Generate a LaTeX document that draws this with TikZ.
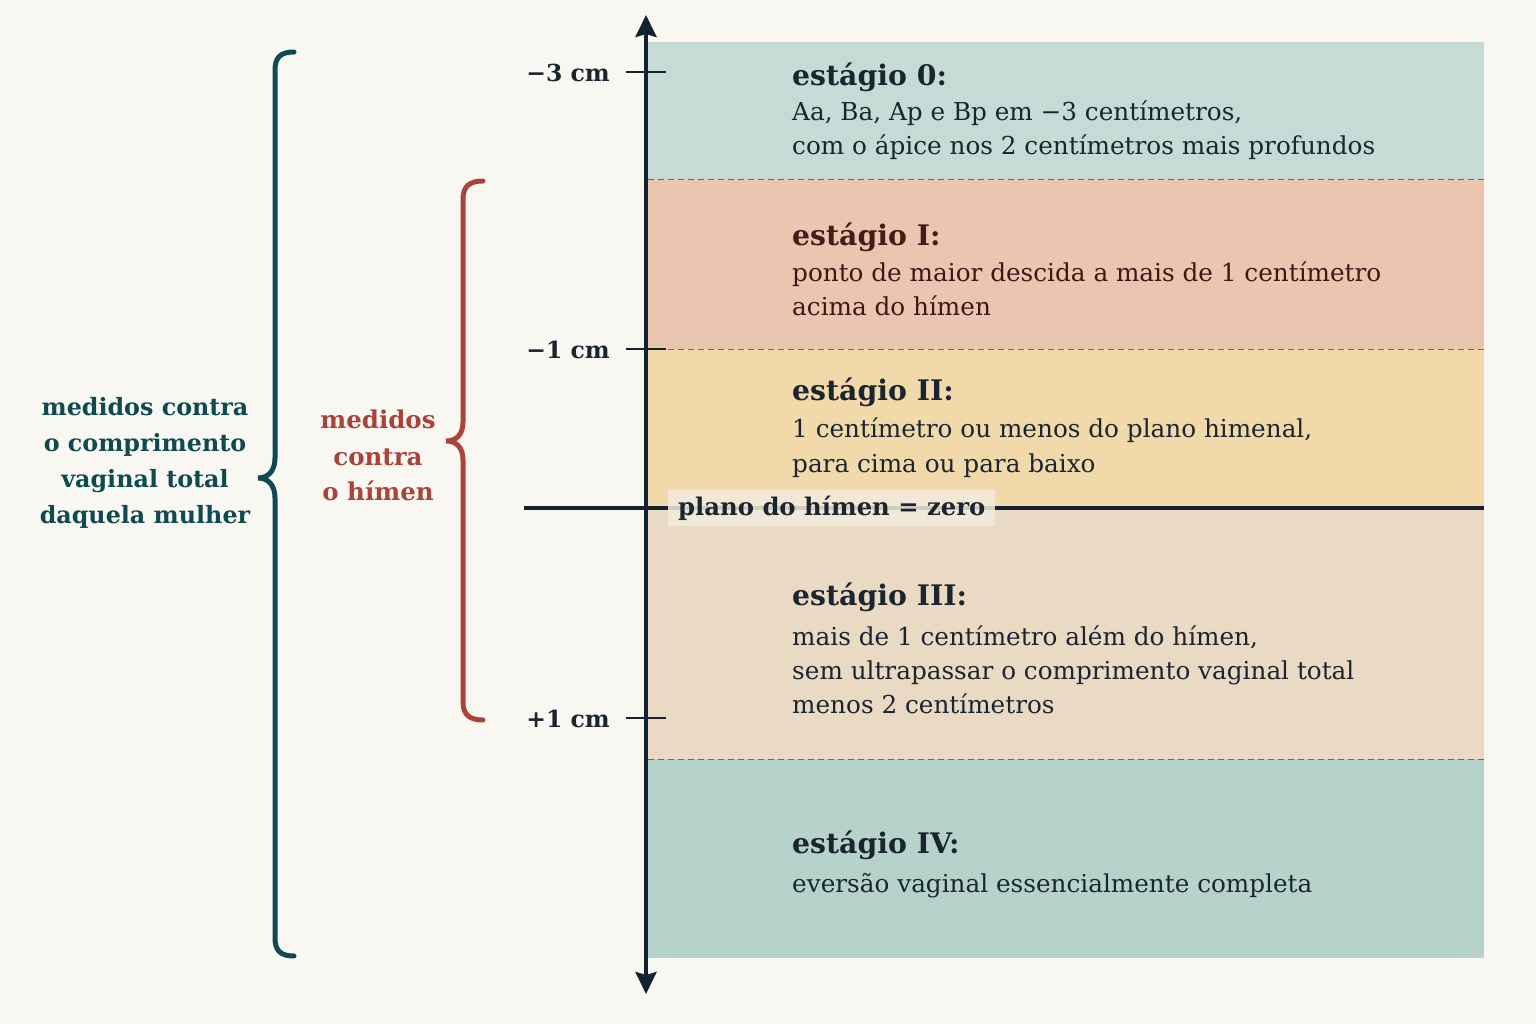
\documentclass[tikz,border=0pt]{standalone}
\usepackage{fontspec}
\setmainfont{DejaVu Serif}
\usetikzlibrary{arrows.meta}
\definecolor{bg}{HTML}{F9F7F1}
\definecolor{bandA}{HTML}{C4DCD5}
\definecolor{bandB}{HTML}{EAC6B1}
\definecolor{bandC}{HTML}{F1D9A9}
\definecolor{bandD}{HTML}{EAD9C3}
\definecolor{bandE}{HTML}{B6D3CB}
\definecolor{axiscol}{HTML}{142230}
\definecolor{teal}{HTML}{0E4A50}
\definecolor{rust}{HTML}{A8443A}
\definecolor{ink}{HTML}{1B2530}
\definecolor{maroon}{HTML}{4A1A1A}
\definecolor{dashcol}{HTML}{6E6A64}
\definecolor{planofill}{HTML}{F2EBDD}
\begin{document}
\begin{tikzpicture}[x=1pt,y=-1pt,
  stagetitle/.style={anchor=base west, inner sep=0pt, font=\bfseries\fontsize{28.3}{32}\selectfont, text=ink},
  stagebody/.style={anchor=base west, inner sep=0pt, font=\fontsize{24.7}{35}\selectfont, text=ink},
  ticklabel/.style={anchor=base east, inner sep=0pt, font=\bfseries\fontsize{23.5}{30}\selectfont, text=ink},
  sidelabel/.style={anchor=base, inner sep=0pt, font=\bfseries\fontsize{23.8}{30}\selectfont},
  tickline/.style={line width=2.5pt, draw=axiscol},
  dashline/.style={line width=1pt, draw=dashcol, dash pattern=on 6pt off 4pt},
  bracestyle/.style={line width=5pt, line cap=round}
]
\useasboundingbox (0,0) rectangle (1536,1024);
\fill[bg] (0,0) rectangle (1536,1024);

% bands
\fill[bandA] (648,42) rectangle (1484,180);
\fill[bandB] (648,180) rectangle (1484,349);
\fill[bandC] (648,349) rectangle (1484,508);
\fill[bandD] (648,508) rectangle (1484,759);
\fill[bandE] (648,759) rectangle (1484,958);

% dashed separators
\coordinate (d1a) at (648,180); \coordinate (d1b) at (1484,180);
\coordinate (d2a) at (648,349); \coordinate (d2b) at (1484,349);
\coordinate (d3a) at (648,759); \coordinate (d3b) at (1484,759);
\draw[dashline] (d1a) -- (d1b);
\draw[dashline] (d2a) -- (d2b);
\draw[dashline] (d3a) -- (d3b);

% hymen plane
\coordinate (pl) at (524,508); \coordinate (pr) at (1484,508);
\draw[line width=4pt, draw=axiscol] (pl) -- (pr);
\node[fill=planofill, fill opacity=0.85, text opacity=1, inner xsep=10pt, inner ysep=6pt,
  font=\bfseries\fontsize{24.3}{30}\selectfont, text=ink, anchor=base west] (plano) at (668,515) {plano do hímen = zero};

% axis
\coordinate (axtop) at (646,15); \coordinate (axbot) at (646,994);
\draw[line width=4pt, draw=axiscol,
  {Stealth[length=22pt,width=21pt,inset=3pt]}-{Stealth[length=22pt,width=21pt,inset=3pt]}] (axbot) -- (axtop);

% ticks
\coordinate (t1a) at (626,72); \coordinate (t1b) at (666,72);
\coordinate (t2a) at (626,349); \coordinate (t2b) at (666,349);
\coordinate (t3a) at (626,718); \coordinate (t3b) at (666,718);
\draw[tickline] (t1a) -- (t1b);
\draw[tickline] (t2a) -- (t2b);
\draw[tickline] (t3a) -- (t3b);
\node[ticklabel] (lm3) at (610,82) {−3 cm};
\node[ticklabel] (lm1) at (610,358) {−1 cm};
\node[ticklabel] (lp1) at (610,727) {+1 cm};

% stage 0
\node[stagetitle] (s0t) at (792,86) {estágio 0:};
\node[stagebody] (s0a) at (792,121) {Aa, Ba, Ap e Bp em −3 centímetros,};
\node[stagebody] (s0b) at (792,155) {com o ápice nos 2 centímetros mais profundos};
% stage I
\node[stagetitle, text=maroon] (s1t) at (792,246) {estágio I:};
\node[stagebody, text=maroon!85!black] (s1a) at (792,282) {ponto de maior descida a mais de 1 centímetro};
\node[stagebody, text=maroon!85!black] (s1b) at (792,316) {acima do hímen};
% stage II
\node[stagetitle] (s2t) at (792,400) {estágio II:};
\node[stagebody] (s2a) at (792,437) {1 centímetro ou menos do plano himenal,};
\node[stagebody] (s2b) at (792,472) {para cima ou para baixo};
% stage III
\node[stagetitle] (s3t) at (792,605) {estágio III:};
\node[stagebody] (s3a) at (792,645) {mais de 1 centímetro além do hímen,};
\node[stagebody] (s3b) at (792,679) {sem ultrapassar o comprimento vaginal total};
\node[stagebody] (s3c) at (792,713) {menos 2 centímetros};
% stage IV
\node[stagetitle] (s4t) at (792,853) {estágio IV:};
\node[stagebody] (s4a) at (792,892) {eversão vaginal essencialmente completa};

% braces
\draw[bracestyle, draw=teal] (294,52) .. controls (281,52) and (275,57) .. (275,70)
  -- (275,458) .. controls (275,471) and (268,478) .. (258,478)
  .. controls (268,478) and (275,485) .. (275,498)
  -- (275,938) .. controls (275,951) and (281,956) .. (294,956);
\draw[bracestyle, draw=rust] (483,181) .. controls (470,181) and (463,186) .. (463,199)
  -- (463,422) .. controls (463,435) and (456,441) .. (446,441)
  .. controls (456,441) and (463,447) .. (463,460)
  -- (463,702) .. controls (463,715) and (470,720) .. (483,720);

% side labels
\node[sidelabel, text=teal] (la) at (145,415) {medidos contra};
\node[sidelabel, text=teal] (lb) at (145,451) {o comprimento};
\node[sidelabel, text=teal] (lc) at (145,487) {vaginal total};
\node[sidelabel, text=teal] (ld) at (145,523) {daquela mulher};
\node[sidelabel, text=rust, font=\bfseries\fontsize{24.5}{30}\selectfont] (ra) at (378,428) {medidos};
\node[sidelabel, text=rust, font=\bfseries\fontsize{24.5}{30}\selectfont] (rb) at (378,465) {contra};
\node[sidelabel, text=rust, font=\bfseries\fontsize{24.5}{30}\selectfont] (rc) at (378,500) {o hímen};
\end{tikzpicture}
\end{document}
